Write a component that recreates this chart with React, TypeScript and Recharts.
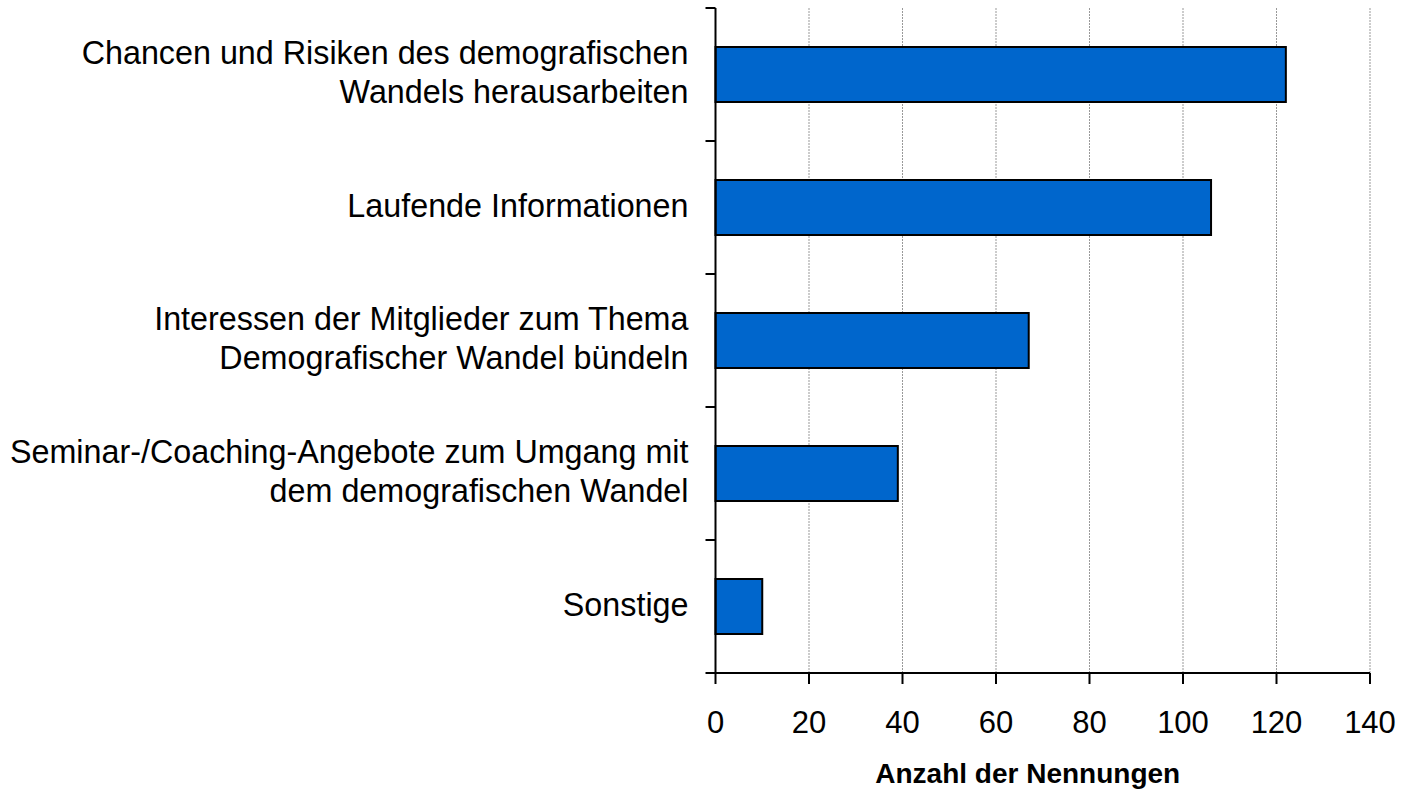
import React from 'react';
import { BarChart, Bar, XAxis, YAxis, CartesianGrid } from 'recharts';

const categories = [
  'Chancen und Risiken des demografischen\nWandels herausarbeiten',
  'Laufende Informationen',
  'Interessen der Mitglieder zum Thema\nDemografischer Wandel bündeln',
  'Seminar-/Coaching-Angebote zum Umgang mit\ndem demografischen Wandel',
  'Sonstige',
];
const values = [122, 106, 67, 39, 10];
const xTicks = [0, 20, 40, 60, 80, 100, 120, 140];
const axisTitle = 'Anzahl der Nennungen';

const data = categories.map((c, i) => ({ name: c, value: values[i] }));

const W = 1409;
const H = 791;
const MARGIN = { top: 8, right: 39, left: 0, bottom: 0 };
const Y_WIDTH = 715.5;
const X_HEIGHT = 118;
const PLOT_H = H - MARGIN.top - MARGIN.bottom - X_HEIGHT;
const BAND = PLOT_H / categories.length;
const FONT = "Arial, 'Liberation Sans', sans-serif";

const YTick = (props: any) => {
  const { x, y, payload, index } = props;
  const lines = String(payload.value).split('\n');
  const lh = 38.5;
  const startY = y - 2 - ((lines.length - 1) * lh) / 2;
  const axisX = Y_WIDTH;
  return (
    <g>
      <text
        x={x}
        y={startY}
        textAnchor="end"
        dominantBaseline="central"
        fontSize={32.3}
        fontFamily={FONT}
        fill="#000"
      >
        {lines.map((l, i) => (
          <tspan key={i} x={x} y={startY + i * lh}>
            {l}
          </tspan>
        ))}
      </text>
      {index === 0 && (
        <line x1={axisX - 10} x2={axisX} y1={y - BAND / 2} y2={y - BAND / 2} stroke="#000" strokeWidth={2} />
      )}
      <line x1={axisX - 10} x2={axisX} y1={y + BAND / 2} y2={y + BAND / 2} stroke="#000" strokeWidth={2} />
    </g>
  );
};

const TitleLabel = (props: any) => {
  const vb = props.viewBox || {};
  return (
    <text
      x={vb.x + vb.width / 2 - 15}
      y={vb.y + 110}
      textAnchor="middle"
      fontSize={28}
      fontWeight="bold"
      fontFamily={FONT}
      fill="#000"
    >
      {axisTitle}
    </text>
  );
};

export default function App() {
  return (
    <div style={{ position: 'absolute', left: 0, top: 0, background: '#fff' }}>
      <BarChart width={W} height={H} data={data} layout="vertical" margin={MARGIN}>
        <CartesianGrid
          horizontal={false}
          vertical={true}
          stroke="#999"
          strokeDasharray="2 1"
          strokeWidth={1}
        />
        <XAxis
          type="number"
          domain={[0, 140]}
          ticks={xTicks}
          interval={0}
          height={X_HEIGHT}
          axisLine={{ stroke: '#000', strokeWidth: 2 }}
          tickLine={{ stroke: '#000', strokeWidth: 2 }}
          tickSize={11}
          tickMargin={27}
          tick={{ fill: '#000', fontSize: 31, fontFamily: FONT }}
          label={<TitleLabel />}
        />
        <YAxis
          type="category"
          dataKey="name"
          width={Y_WIDTH}
          axisLine={{ stroke: '#000', strokeWidth: 2 }}
          tickLine={false}
          tickSize={10}
          tickMargin={17}
          interval={0}
          tick={<YTick />}
        />
        <Bar
          dataKey="value"
          fill="#0066CC"
          stroke="#000"
          strokeWidth={2}
          barSize={55}
          isAnimationActive={false}
        />
      </BarChart>
    </div>
  );
}
